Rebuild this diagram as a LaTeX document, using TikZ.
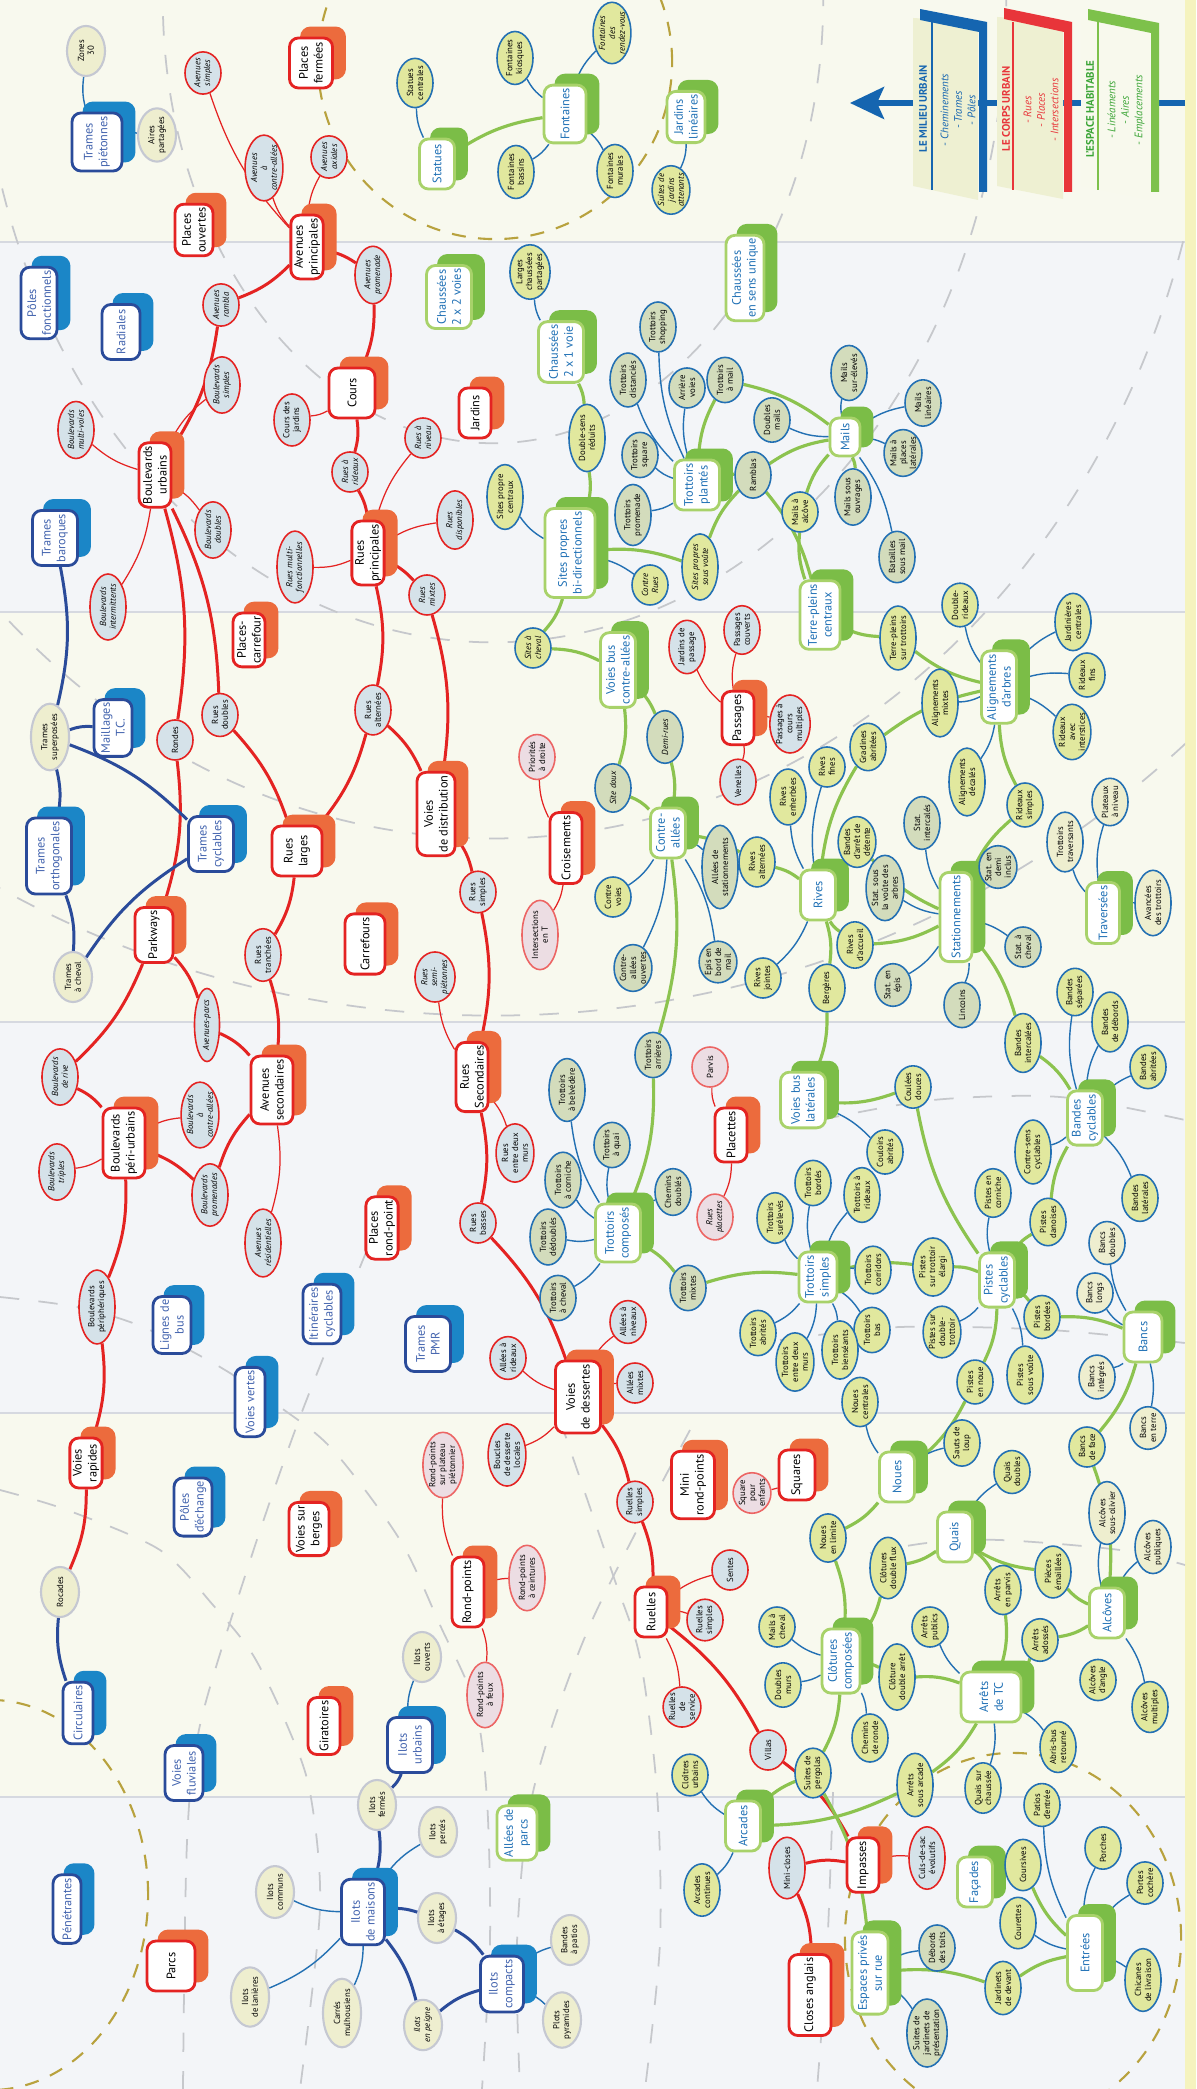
\documentclass[tikz,border=0pt]{standalone}
\usepackage{fontspec}
\setmainfont{PT Sans}
\usetikzlibrary{shapes.geometric,arrows.meta}

\definecolor{cred}{HTML}{E42322}
\definecolor{corange}{HTML}{EC6B3D}
\definecolor{cdblue}{HTML}{2A4B9A}
\definecolor{cmblue}{HTML}{1B86C7}
\definecolor{cbtext}{HTML}{4263AE}
\definecolor{clgreen}{HTML}{A8D26A}
\definecolor{cgreen}{HTML}{7BBD47}
\definecolor{cgtext}{HTML}{1F70B5}
\definecolor{cpaleblue}{HTML}{D5E2E9}
\definecolor{cpink}{HTML}{ECDDE3}
\definecolor{cgrayb}{HTML}{C5C8D2}
\definecolor{cbeige}{HTML}{EEEECF}
\definecolor{clblue}{HTML}{2370B3}
\definecolor{cyell}{HTML}{E1E89E}
\definecolor{csage}{HTML}{D3DCBC}
\definecolor{cgline}{HTML}{8CC34F}
\definecolor{cbgy}{HTML}{F8F9EE}
\definecolor{cbgg}{HTML}{F3F5F8}
\definecolor{cband}{HTML}{D6D9E0}
\definecolor{cdash}{HTML}{C6C8CC}
\definecolor{colive}{HTML}{B8A23E}
\definecolor{cstrip}{HTML}{F5F3BE}
\definecolor{cpaper}{HTML}{EEF0D2}
\definecolor{cleg}{HTML}{1565B0}
\definecolor{clegred}{HTML}{E8353A}
\definecolor{cleggreen}{HTML}{7DC14B}
\definecolor{clegtg}{HTML}{3CA537}

\newcommand{\boxfont}{\fontsize{3.5}{4.2}\selectfont}
\newcommand{\leaffont}{\fontsize{2.5}{2.8}\selectfont}
\newcommand{\legfont}{\fontsize{3.1}{3.85}\selectfont}

% main box with its coloured blob behind it
\newcommand{\bignode}[6][]{%
  \node[#2shadow,#1] at ({#4+12},{#5-10}) {#6};
  \node[#2main,#1] (#3) at (#4,#5) {#6};}

\pgfdeclarelayer{bg}
\pgfsetlayers{bg,main}

\tikzset{
  box/.style={rectangle, rounded corners=0.09cm, line width=0.8pt, fill=white,
    align=center, rotate=90, inner sep=0.9pt, font=\boxfont},
  rmain/.style={box, draw=cred, text=black, minimum width=0.5cm, minimum height=0.32cm},
  rshadow/.style={rmain, draw=corange, fill=corange, text=corange},
  bmain/.style={box, draw=cdblue, text=cbtext, minimum width=0.55cm, minimum height=0.38cm},
  bshadow/.style={bmain, draw=cmblue, fill=cmblue, text=cmblue},
  gmain/.style={box, draw=clgreen, text=cgtext, minimum width=0.5cm, minimum height=0.35cm},
  gshadow/.style={gmain, draw=cgreen, fill=cgreen, text=cgreen},
  leaf/.style={ellipse, line width=0.45pt, align=center, rotate=90, inner sep=0.1pt,
    minimum width=0.40cm, minimum height=0.36cm, font=\leaffont},
  rl/.style={leaf, draw=cred, fill=cpaleblue, font=\leaffont\itshape},
  ru/.style={leaf, draw=cred, fill=cpaleblue},
  rp/.style={leaf, draw=cred!70, fill=cpink},
  ml/.style={leaf, draw=cgrayb, fill=cbeige, line width=0.6pt, minimum width=0.5cm, minimum height=0.38cm},
  gy/.style={leaf, draw=clblue, fill=cyell},
  gs/.style={leaf, draw=clblue, fill=csage},
  gb/.style={leaf, draw=clblue, fill=cbeige},
  rk/.style={draw=cred, line width=0.85pt},
  rn/.style={draw=cred, line width=0.35pt},
  bk/.style={draw=cdblue, line width=0.85pt},
  bn/.style={draw=clblue, line width=0.4pt},
  gk/.style={draw=cgline, line width=0.9pt},
  gdash/.style={draw=cdash, line width=0.5pt, dash pattern=on 5.5pt off 5.5pt},
  odash/.style={draw=colive, line width=0.6pt, dash pattern=on 4pt off 3.5pt}
}

\begin{document}
\begin{tikzpicture}[x=0.01cm, y=-0.01cm]
\useasboundingbox (0,0) rectangle (1196,2089);

\begin{pgfonlayer}{bg}
  \fill[cbgy] (0,0) rectangle (1196,242);
  \fill[cbgg] (0,242) rectangle (1196,612);
  \fill[cbgy] (0,612) rectangle (1196,1022);
  \fill[cbgg] (0,1022) rectangle (1196,1413);
  \fill[cbgy] (0,1413) rectangle (1196,1797);
  \fill[cbgg] (0,1797) rectangle (1196,2089);
  \foreach \yy in {242,612,1022,1413,1797}
    \draw[cband, line width=0.6pt] (0,\yy) -- (1185,\yy);
  \fill[cstrip] (1185,0) rectangle (1196,2089);
  \begin{scope}
    \clip (0,0) rectangle (1185,2089);
    \foreach \rx/\ry in {3.30/4.43, 5.13/6.42, 7.20/8.38, 10.16/10.15}
      \draw[gdash] (493,0) ellipse [x radius=\rx cm, y radius=\ry cm];
    \draw[gdash] plot[smooth] coordinates {(0,1297) (77,1307) (143,1327) (220,1367) (280,1407) (333,1450) (400,1540) (440,1625) (475,1705) (487,1800) (490,1940) (482,2089)};
    \draw[gdash] plot[smooth] coordinates {(0,1490) (67,1510) (160,1550) (213,1605) (253,1655) (287,1725) (310,1792) (320,1908) (300,2089)};
    \draw[gdash] plot[smooth] coordinates {(367,1250) (300,1417) (247,1570) (200,1725) (187,1842) (183,2089)};
    \draw[gdash] plot[smooth] coordinates {(560,1420) (613,1575) (640,1658) (657,1792) (660,1942) (645,2089)};
    \draw[gdash] plot[smooth] coordinates {(690,1430) (590,1625) (533,1792) (517,1942) (520,2089)};
    \draw[gdash] plot[smooth] coordinates {(833,1792) (827,1952) (817,2089)};
    \draw[gdash] plot[smooth] coordinates {(820,1120) (933,1100) (1060,1097) (1185,1120)};
    \draw[gdash] plot[smooth] coordinates {(780,1340) (900,1327) (1050,1330) (1185,1343)};
    \draw[gdash] plot[smooth] coordinates {(870,1553) (927,1543) (1000,1540) (1120,1550) (1185,1565)};
    \draw[odash] (495,62) circle [radius=1.77cm];
    \draw[odash] (1013,1938) ellipse [x radius=1.68cm, y radius=1.85cm];
    \draw[odash] (-10,1895) ellipse [x radius=1.58cm, y radius=1.95cm];
  \end{scope}
\end{pgfonlayer}

% legend
\draw[cleg, line width=1.5pt, -{Stealth[length=0.34cm, width=0.32cm, inset=0.07cm]}] (1185,103) -- (850,103);
\fill[cpaper] (913,18) -- (978,22) -- (978,200) -- (913,186) -- cycle;
\draw[cleg, line width=0.5pt] (932,22) -- (932,190);
\fill[cleg] (920,9) -- (987,22) -- (987,192) -- (979,192) -- (979,32) -- (920,20) -- cycle;
\fill[cpaper] (997,17) -- (1063,21) -- (1063,199) -- (997,186) -- cycle;
\draw[clegred, line width=0.5pt] (1013,22) -- (1013,190);
\fill[clegred] (1004,8) -- (1072,22) -- (1072,192) -- (1064,192) -- (1064,32) -- (1004,19) -- cycle;
\fill[white!60!cpaper] (1081,18) -- (1152,22) -- (1152,200) -- (1081,186) -- cycle;
\draw[cleggreen, line width=0.5pt] (1098,22) -- (1098,190);
\fill[cleggreen] (1088,9) -- (1159,23) -- (1159,192) -- (1151,192) -- (1151,33) -- (1088,20) -- cycle;
\node[rotate=90, font=\legfont\bfseries, text=cleg] (legmilieu) at (923,109) {LE MILIEU URBAIN};
\node[rotate=90, font=\legfont\itshape, text=cleg, align=center] (legmilieux) at (958,110) {- Cheminements\\- Trames\\- Pôles};
\node[rotate=90, font=\legfont\bfseries, text=clegred] (legcorps) at (1006,109) {LE CORPS URBAIN};
\node[rotate=90, font=\legfont\itshape, text=clegred, align=center] (legcorpsx) at (1041,110) {- Rues\\- Places\\- Intersections};
\node[rotate=90, font=\legfont\bfseries, text=clegtg] (legespace) at (1090,109) {L'ESPACE HABITABLE};
\node[rotate=90, font=\legfont\itshape, text=clegtg, align=center] (legespacex) at (1126,110) {- Linéaments\\- Aires\\- Emplacements};

% le corps urbain
\bignode[minimum height=0.43cm]{r}{placesfermees}{311}{63}{Places\\fermées}
\bignode[minimum height=0.38cm]{r}{placesouvertes}{194}{230}{Places\\ouvertes}
\bignode{r}{avprinc}{307}{247}{Avenues\\principales}
\bignode[minimum height=0.46cm]{r}{cours}{352}{393}{Cours}
\bignode{r}{boulurb}{155}{475}{Boulevards\\urbains}
\bignode{r}{jardins}{475}{413}{Jardins}
\bignode{r}{ruesprinc}{368}{553}{Rues\\principales}
\bignode{r}{placescarr}{249}{640}{Places-\\carrefour}
\bignode[minimum height=0.5cm]{r}{rueslarges}{297}{851}{Rues\\larges}
\bignode[minimum height=0.38cm]{r}{parkways}{154}{935}{Parkways}
\bignode[minimum height=0.4cm]{r}{carrefours}{365}{944}{Carrefours}
\bignode[minimum height=0.38cm]{r}{voiesdistr}{436}{814}{Voies\\de distribution}
\bignode{r}{croisements}{566}{848}{Croisements}
\bignode{r}{passages}{738}{718}{Passages}
\bignode[minimum height=0.42cm]{r}{avsec}{272}{1090}{Avenues\\secondaires}
\bignode[minimum height=0.42cm]{r}{boulperi}{124}{1143}{Boulevards\\péri-urbains}
\bignode{r}{placesrp}{382}{1228}{Places\\rond-point}
\bignode{r}{ruessec}{472}{1077}{Rues\\Secondaires}
\bignode{r}{placettes}{731}{1135}{Placettes}
\bignode{r}{voiesrap}{86}{1463}{Voies\\rapides}
\bignode[minimum height=0.4cm]{r}{voiesberges}{309}{1529}{Voies sur\\berges}
\bignode[minimum height=0.45cm]{r}{voiesdess}{578}{1397}{Voies\\de dessertes}
\bignode[minimum height=0.43cm]{r}{minirp}{693}{1485}{Mini\\rond-points}
\bignode[minimum height=0.36cm]{r}{squares}{797}{1475}{Squares}
\bignode{r}{rondpoints}{468}{1592}{Rond-points}
\bignode{r}{ruelles}{651}{1612}{Ruelles}
\bignode{r}{giratoires}{324}{1726}{Giratoires}
\bignode[minimum height=0.48cm]{r}{parcs}{171}{1966}{Parcs}
\bignode{r}{impasses}{863}{1865}{Impasses}
\bignode[minimum height=0.42cm]{r}{closes}{810}{1995}{Closes anglais}

\node[rl] (avsimples) at (203,73) {Avenues\\simples};
\node[rl] (avcontre) at (264,168) {Avenues\\à\\contre-allées};
\node[rl] (avaxiales) at (329,157) {Avenues\\axiales};
\node[rl] (avpromenade) at (373,275) {Avenues\\promenade};
\node[rl] (avrambla) at (221,305) {Avenues\\rambla};
\node[rl] (bsimples) at (222,385) {Boulevards\\simples};
\node[ru] (coursjardins) at (292,420) {Cours des\\jardins};
\node[rl] (bmulti) at (76,430) {Boulevards\\multi-voies};
\node[rl] (ruesrideaux) at (350,472) {Rues à\\rideaux};
\node[rl] (bdoubles) at (213,530) {Boulevards\\doubles};
\node[rl] (bintermittents) at (108,607) {Boulevards\\intermittents};
\node[rl] (ruesmulti) at (295,567) {Rues multi-\\fonctionnelles};
\node[rl] (ruesniveau) at (423,438) {Rues à\\niveau};
\node[rl] (ruesdispo) at (455,520) {Rues\\disponibles};
\node[rl] (ruesmixtes) at (427,595) {Rues\\mixtes};
\node[ru] (rondes) at (175,740) {Rondes};
\node[ru] (ruesdoubles) at (220,715) {Rues\\doubles};
\node[ru] (ruesalt) at (373,710) {Rues\\alternées};
\node[ru] (ruestranchees) at (263,955) {Rues\\tranchées};
\node[rl, minimum width=0.55cm, minimum height=0.25cm] (avparcs) at (207,1025) {Avenues-parcs};
\node[ru] (ruessimples) at (478,892) {Rues\\simples};
\node[rl] (ruessemi) at (435,977) {Rues\\semi-\\piétonnes};
\node[rp] (prioritesdroite) at (537,757) {Priorités\\à droite};
\node[rp] (intersectionsT) at (540,935) {Intersections\\en T};
\node[ru] (jardinspassage) at (687,647) {Jardins de\\passage};
\node[ru] (passagescouverts) at (742,630) {Passages\\couverts};
\node[ru] (passagescours) at (790,724) {Passages à\\cours\\multiples};
\node[ru] (venelles) at (738,782) {Venelles};
\node[rl] (bderive) at (60,1077) {Boulevards\\de rive};
\node[rl] (bcontre) at (200,1115) {Boulevards\\à\\contre-allées};
\node[rl] (btriples) at (57,1172) {Boulevards\\triples};
\node[rl] (bpromenades) at (210,1195) {Boulevards\\promenades};
\node[rl] (avresid) at (263,1243) {Avenues\\résidentielles};
\node[ru] (bperiph) at (97,1307) {Boulevards\\périphériques};
\node[ru] (ruesdeuxmurs) at (515,1153) {Rues\\entre deux\\murs};
\node[ru] (ruesbasses) at (478,1223) {Rues\\basses};
\node[rp] (parvis) at (710,1067) {Parvis};
\node[rp, font=\leaffont\itshape] (ruesplacettes) at (715,1217) {Rues\\placettes};
\node[ru] (alleesniveaux) at (628,1322) {Allées à\\niveaux};
\node[ru] (alleesrideaux) at (508,1358) {Allées à\\rideaux};
\node[ru] (alleesmixtes) at (635,1383) {Allées\\mixtes};
\node[rp] (rpplateau) at (443,1465) {Rond-points\\sur plateau\\piétonnier};
\node[ru] (boucles) at (507,1455) {Boucles\\de desserte\\locales};
\node[rp] (squareenfants) at (752,1493) {Square\\pour\\enfants};
\node[ru] (ruellessimplesa) at (635,1502) {Ruelles\\simples};
\node[rp] (rpceintures) at (527,1578) {Rond-points\\à ceintures};
\node[ru] (sentes) at (730,1570) {Sentes};
\node[ru] (ruellessimplesb) at (705,1620) {Ruelles\\simples};
\node[rp] (rpfeux) at (485,1695) {Rond-points\\à feux};
\node[ru] (ruellesservice) at (682,1707) {Ruelles\\de\\service};
\node[ru] (villas) at (768,1750) {Villas};
\node[ru] (miniclos) at (787,1868) {Mini-closes};
\node[ru] (culsdesac) at (927,1858) {Culs-de-sac\\évolutifs};

% le milieu urbain
\bignode[minimum height=0.5cm]{b}{tramespiet}{97}{142}{Trames\\piétonnes}
\bignode[minimum height=0.36cm]{b}{polesfonc}{39}{303}{Pôles\\fonctionnels}
\bignode{b}{radiales}{121}{332}{Radiales}
\bignode[minimum height=0.45cm]{b}{tramesbaroq}{55}{538}{Trames\\baroques}
\bignode{b}{maillages}{113}{728}{Maillages\\T.C.}
\bignode[minimum height=0.45cm]{b}{tramesortho}{49}{856}{Trames\\orthogonales}
\bignode[minimum height=0.45cm]{b}{tramescycl}{211}{844}{Trames\\cyclables}
\bignode{b}{lignesbus}{172}{1325}{Lignes de\\bus}
\bignode{b}{itineraires}{322}{1314}{Itinéraires\\cyclables}
\bignode[minimum height=0.3cm]{b}{voiesvertes}{250}{1402}{Voies vertes}
\bignode{b}{polesech}{193}{1507}{Pôles\\d'échange}
\bignode[minimum height=0.45cm]{b}{tramespmr}{428}{1344}{Trames\\PMR}
\bignode[minimum height=0.3cm]{b}{circulaires}{78}{1713}{Circulaires}
\bignode{b}{voiesfluv}{184}{1773}{Voies\\fluviales}
\bignode[minimum height=0.45cm]{b}{ilotsurb}{410}{1745}{Ilots\\urbains}
\bignode[minimum height=0.28cm]{b}{penetrantes}{67}{1909}{Pénétrantes}
\bignode[minimum height=0.43cm]{b}{ilotsmaisons}{363}{1912}{Ilots\\de maisons}
\bignode[minimum height=0.43cm]{b}{ilotscompacts}{502}{1984}{Ilots\\compacts}

\node[ml] (zones30) at (86,51) {Zones\\30};
\node[ml] (airespart) at (157,135) {Aires\\partagées};
\node[ml] (tramessup) at (50,737) {Trames\\superposées};
\node[ml] (tramescheval) at (73,977) {Trames\\à cheval};
\node[ml] (rocades) at (60,1592) {Rocades};
\node[ml] (ilotsfermes) at (377,1805) {Ilots\\fermés};
\node[ml] (ilotsouverts) at (422,1657) {Ilots\\ouverts};
\node[ml] (ilotscommuns) at (275,1892) {Ilots\\communs};
\node[ml] (ilotslanieres) at (250,1997) {Ilots\\de lanières};
\node[ml] (carres) at (342,2013) {Carrés\\mulhousiens};
\node[ml] (ilotsperces) at (438,1832) {Ilots\\percés};
\node[ml] (ilotsetages) at (437,1918) {Ilots\\à étages};
\node[ml, font=\leaffont\itshape] (ilotspeigne) at (423,2025) {Ilots\\en peigne};
\node[ml] (bandespatios) at (570,1940) {Bandes\\à patios};
\node[ml] (plots) at (562,2020) {Plots\\pyramides};

% l'espace habitable
\bignode{g}{statues}{437}{164}{Statues}
\bignode[minimum height=0.42cm]{g}{fontaines}{565}{114}{Fontaines}
\bignode[minimum height=0.38cm]{g}{jardinslin}{686}{117}{Jardins\\linéaires}
\bignode[minimum height=0.45cm]{g}{chauss22}{449}{297}{Chaussées\\2 x 2 voies}
\bignode[minimum height=0.45cm]{g}{chauss21}{561}{352}{Chaussées\\2 x 1 voie}
\bignode[minimum height=0.38cm]{g}{chausssu}{745}{278}{Chaussées\\en sens unique}
\bignode[minimum height=0.45cm]{g}{trottplantes}{697}{485}{Trottoirs\\plantés}
\bignode[minimum height=0.3cm, minimum width=0.38cm]{g}{mails}{845}{437}{Mails}
\bignode[minimum height=0.5cm]{g}{sitesbi}{570}{553}{Sites propres\\bi-directionnels}
\bignode[minimum height=0.4cm]{g}{terrepleins}{820}{615}{Terre-pleins\\centraux}
\bignode{g}{voiesbusca}{618}{670}{Voies bus\\contre-allées}
\bignode{g}{alignements}{999}{687}{Alignements\\d'arbres}
\bignode{g}{contreallees}{668}{833}{Contre-\\allées}
\bignode{g}{rives}{818}{895}{Rives}
\bignode[minimum height=0.32cm]{g}{stationnements}{956}{917}{Stationnements}
\bignode[minimum height=0.33cm]{g}{traversees}{1103}{913}{Traversées}
\bignode[minimum height=0.45cm]{g}{voiesbuslat}{803}{1100}{Voies bus\\latérales}
\bignode{g}{bandescycl}{1085}{1118}{Bandes\\cyclables}
\bignode[minimum height=0.45cm]{g}{trottcomp}{618}{1233}{Trottoirs\\composés}
\bignode[minimum height=0.38cm]{g}{trottsimples}{818}{1277}{Trottoirs\\simples}
\bignode{g}{pistescycl}{997}{1280}{Pistes\\cyclables}
\bignode[minimum height=0.38cm]{g}{bancs}{1143}{1337}{Bancs}
\bignode{g}{noues}{897}{1477}{Noues}
\bignode{g}{quais}{955}{1537}{Quais}
\bignode{g}{alcoves}{1107}{1613}{Alcôves}
\bignode[minimum height=0.38cm]{g}{clotures}{841}{1661}{Clôtures\\composées}
\bignode[minimum height=0.6cm]{g}{arretstc}{991}{1697}{Arrêts\\de TC}
\bignode[minimum height=0.4cm]{g}{alleesparcs}{517}{1833}{Allées de\\parcs}
\bignode{g}{arcades}{743}{1826}{Arcades}
\bignode{g}{facades}{975}{1882}{Façades}
\bignode[minimum height=0.36cm]{g}{espaces}{870}{1973}{Espaces privés\\sur rue}
\bignode[minimum width=0.75cm]{g}{entrees}{1085}{1953}{Entrées}

\node[gy] (statuescentrales) at (415,83) {Statues\\centrales};
\node[gy] (fontkiosques) at (515,58) {Fontaines\\kiosques};
\node[gy, font=\leaffont\itshape] (fontrdv) at (612,33) {Fontaines\\des\\rendez-vous};
\node[gy] (fontbassins) at (516,172) {Fontaines\\bassins};
\node[gy] (fontmurales) at (615,171) {Fontaines\\murales};
\node[gy, font=\leaffont\itshape] (suitesjardins) at (671,190) {Suites de\\jardins\\attenants};
\node[gy] (larges) at (530,272) {Larges\\chaussées\\partagées};
\node[gs] (tshopping) at (658,327) {Trottoirs\\shopping};
\node[gs] (tdistancies) at (628,380) {Trottoirs\\distanciés};
\node[gs] (arrierevoies) at (687,388) {Arrière\\voies};
\node[gs] (tamail) at (725,380) {Trottoirs\\à mail};
\node[gs] (doublesmails) at (772,420) {Doubles\\mails};
\node[gy] (doublesens) at (587,438) {Double-sens\\réduits};
\node[gs] (tsquare) at (640,455) {Trottoirs\\square};
\node[gs] (ramblas) at (753,475) {Ramblas};
\node[gy] (sitescentraux) at (505,497) {Sites propre\\centraux};
\node[gs] (tpromenade) at (633,515) {Trottoirs\\promenade};
\node[gs] (mailssur) at (849,373) {Mails\\sur-élevés};
\node[gs] (mailslin) at (923,403) {Mails\\linéaires};
\node[gs] (mailsplaces) at (903,453) {Mails à\\places\\latérales};
\node[gs] (mailssous) at (853,497) {Mails sous\\ouvrages};
\node[gy] (mailsalcove) at (800,512) {Mails à\\alcôve};
\node[gy, font=\leaffont\itshape] (contrerues) at (650,585) {Contre\\Rues};
\node[gy, font=\leaffont\itshape] (sitesvoute) at (700,567) {Sites propres\\sous voûte};
\node[gy, font=\leaffont\itshape] (sitescheval) at (533,648) {Sites à\\cheval};
\node[gs, font=\leaffont\itshape] (demirues) at (665,737) {Demi-rues};
\node[gs, font=\leaffont\itshape] (sitedoux) at (613,788) {Site doux};
\node[gy] (rivesenherbees) at (788,797) {Rives\\enherbées};
\node[gs] (alleesstat) at (720,867) {Allées de\\stationnements};
\node[gy] (rivesalt) at (757,862) {Rives\\alternées};
\node[gy] (contrevoies) at (613,897) {Contre\\voies};
\node[gs] (caouvertes) at (633,968) {Contre-\\allées\\ouvertes};
\node[gs] (epis) at (718,962) {Epis en\\bord de\\mail};
\node[gy] (rivesjointes) at (763,978) {Rives\\jointes};
\node[gs] (batailles) at (897,557) {Batailles\\sous mail};
\node[gy] (doublerideaux) at (960,605) {Double-\\rideaux};
\node[gy] (jardinieres) at (1073,622) {Jardinières\\centrales};
\node[gy] (tpsurtrottoirs) at (898,638) {Terre-pleins\\sur trottoirs};
\node[gy] (rideauxfins) at (1087,675) {Rideaux\\fins};
\node[gy] (alignmixtes) at (940,703) {Alignements\\mixtes};
\node[gy] (rideauxinter) at (1072,732) {Rideaux\\avec\\interstices};
\node[gy] (gradines) at (868,747) {Gradines\\abritées};
\node[gy] (rivesfines) at (827,767) {Rives\\fines};
\node[gy] (aligndecales) at (967,782) {Alignements\\décalés};
\node[gy] (rideauxsimples) at (1025,805) {Rideaux\\simples};
\node[gb] (plateaux) at (1110,802) {Plateaux\\à niveau};
\node[gs] (statintercales) at (922,823) {Stat.\\intercalés};
\node[gy] (bandesarret) at (857,842) {Bandes\\d'arrêt de\\détente};
\node[gb] (trottraversants) at (1065,842) {Trottoirs\\traversants};
\node[gs] (statdemi) at (998,867) {Stat. en\\demi\\inclus};
\node[gs] (statvoute) at (885,888) {Stat. sous\\la voûte des\\arbres};
\node[gb] (avancees) at (1153,903) {Avancées\\des trottoirs};
\node[gy] (rivesaccueil) at (855,945) {Rives\\d'accueil};
\node[gs] (statcheval) at (1023,947) {Stat. à\\cheval};
\node[gs] (statepis) at (893,985) {Stat. en\\épis};
\node[gy] (bergeres) at (827,988) {Bergères};
\node[gs] (lincolns) at (962,1005) {Lincolns};
\node[gy] (bandessep) at (1075,992) {Bandes\\séparées};
\node[gy] (bandesdebords) at (1110,1022) {Bandes\\de débords};
\node[gy] (bandesinter) at (1023,1043) {Bandes\\intercalées};
\node[gs] (tarrieres) at (653,1055) {Trottoirs\\arrières};
\node[gs] (tbelvedere) at (567,1090) {Trottoirs\\à belvédère};
\node[gs] (tquai) at (612,1145) {Trottoirs\\à quai};
\node[gs] (tcorniche) at (563,1180) {Trottoirs\\à corniche};
\node[gs] (cheminsdoubles) at (673,1192) {Chemins\\doublés};
\node[gs] (tdedoubles) at (548,1237) {Trottoirs\\dédoublés};
\node[gy] (tsureleves) at (775,1218) {Trottoirs\\surélevés};
\node[gs] (tmixtes) at (688,1288) {Trottoirs\\mixtes};
\node[gs] (tcheval) at (558,1298) {Trottoirs\\à cheval};
\node[gy] (tabrites) at (758,1333) {Trottoirs\\abrités};
\node[gy] (tdeuxmurs) at (795,1362) {Trottoirs\\entre deux\\murs};
\node[gy] (bandesabritees) at (1148,1067) {Bandes\\abritées};
\node[gy] (coulees) at (913,1087) {Coulées\\douces};
\node[gy] (couloirs) at (885,1152) {Couloirs\\abrités};
\node[gy] (contresens) at (1033,1152) {Contre-sens\\cyclables};
\node[gy] (tbordes) at (813,1183) {Trottoirs\\bordés};
\node[gy] (trideaux) at (862,1195) {Trottoirs à\\rideaux};
\node[gy] (pcorniche) at (993,1193) {Pistes en\\corniche};
\node[gy] (bandeslat) at (1140,1198) {Bandes\\latérales};
\node[gy] (pdanoises) at (1048,1222) {Pistes\\danoises};
\node[gb] (bancsdoubles) at (1107,1243) {Bancs\\doubles};
\node[gy] (tcorridors) at (873,1270) {Trottoirs\\corridors};
\node[gy] (pelargi) at (933,1267) {Pistes\\sur trottoir\\élargi};
\node[gb] (bancslongs) at (1095,1293) {Bancs\\longs};
\node[gy] (tbas) at (872,1330) {Trottoirs\\bas};
\node[gy] (pbordees) at (1042,1317) {Pistes\\bordées};
\node[gy] (tbienseants) at (840,1350) {Trottoirs\\bienséants};
\node[gy] (pdouble) at (942,1332) {Pistes sur\\double-\\trottoir};
\node[gb] (bancsintegres) at (1097,1377) {Bancs\\intégrés};
\node[gy] (pnoue) at (975,1382) {Pistes\\en noue};
\node[gy] (psousvoute) at (1025,1375) {Pistes\\sous voûte};
\node[gy] (nouescentrales) at (860,1402) {Noues\\centrales};
\node[gb] (bancsterre) at (1148,1428) {Bancs\\en terre};
\node[gy] (sautsloup) at (962,1443) {Sauts de\\loup};
\node[gy] (bancsface) at (1087,1447) {Bancs\\de face};
\node[gy] (quaisdoubles) at (1012,1472) {Quais\\doubles};
\node[gb] (alcovesolivier) at (1107,1513) {Alcôves\\sous-olivier};
\node[gy] (nouesenlimite) at (828,1538) {Noues\\en limite};
\node[gb] (alcovespubl) at (1153,1547) {Alcôves\\publiques};
\node[gy] (cloturesflux) at (888,1568) {Clôtures\\double flux};
\node[gy] (piecesem) at (1053,1572) {Pièces\\émaillées};
\node[gy] (arretsparvis) at (1003,1590) {Arrêts\\en parvis};
\node[gy] (arretspublics) at (930,1627) {Arrêts\\publics};
\node[gy] (arretsadosses) at (1040,1640) {Arrêts\\adossés};
\node[gy] (cloturearret) at (897,1677) {Clôture\\double arrêt};
\node[gy] (alcovesangle) at (1098,1680) {Alcôves\\d'angle};
\node[gy] (alcovesmult) at (1150,1707) {Alcôves\\multiples};
\node[gy] (cheminsronde) at (870,1738) {Chemins\\de ronde};
\node[gy] (abrisbus) at (1058,1747) {Abris-bus\\retourné};
\node[gy] (pergolas) at (813,1773) {Suites de\\pergolas};
\node[gy] (arretsarcade) at (915,1785) {Arrêts\\sous arcade};
\node[gy] (quaischaussee) at (983,1788) {Quais sur\\chaussée};
\node[gy] (patios) at (1042,1805) {Patios\\d'entrée};
\node[gy] (porches) at (1103,1848) {Porches};
\node[gy] (coursives) at (1023,1865) {Coursives};
\node[gy] (portes) at (1145,1883) {Portes\\cochère};
\node[gy] (courettes) at (1018,1923) {Courettes};
\node[gs] (debords) at (937,1948) {Débords\\des toits};
\node[gy] (chicanes) at (1143,1980) {Chicanes\\de livraison};
\node[gy] (jardinets) at (1003,1988) {Jardinets\\de devant};
\node[gs] (suitesjardinets) at (927,2033) {Suites de\\jardinets de\\présentation};
\node[gy] (mailscheval) at (777,1627) {Mails à\\cheval};
\node[gy] (doublesmurs) at (783,1685) {Doubles\\murs};
\node[gy] (cloitres) at (690,1775) {Cloîtres\\urbains};
\node[gy] (arcadescont) at (702,1890) {Arcades\\continues};

\begin{pgfonlayer}{bg}
  \foreach \a/\b in {avprinc/avrambla, avrambla/boulurb, avprinc/avpromenade, avpromenade/cours,
      cours/ruesrideaux, ruesrideaux/ruesprinc, boulurb/rondes, rondes/parkways, boulurb/ruesdoubles,
      ruesdoubles/rueslarges, ruesprinc/ruesalt, ruesalt/rueslarges, ruesalt/voiesdistr,
      ruesprinc/ruesmixtes, ruesmixtes/voiesdistr, rueslarges/ruestranchees, ruestranchees/avsec,
      parkways/avparcs, avparcs/avsec, parkways/bderive, bderive/boulperi, boulperi/bpromenades,
      bpromenades/avsec, boulperi/bperiph, bperiph/voiesrap, voiesrap/rocades, voiesdistr/ruessimples,
      ruessimples/ruessec, ruessec/ruesbasses, ruesbasses/voiesdess, voiesdess/ruellessimplesa,
      ruellessimplesa/ruelles, ruelles/villas, villas/impasses, miniclos/impasses, miniclos/closes}
    \draw[rk] (\a) to[bend left=12] (\b);
  \foreach \a/\b in {avprinc/avsimples, avprinc/avcontre, avprinc/avaxiales, cours/coursjardins,
      boulurb/bsimples, boulurb/bmulti, boulurb/bdoubles, boulurb/bintermittents, ruesprinc/ruesmulti,
      ruesprinc/ruesdispo, ruesprinc/ruesniveau, boulperi/bcontre, boulperi/btriples, avsec/avresid,
      ruessec/ruessemi, ruessec/ruesdeuxmurs, croisements/prioritesdroite, croisements/intersectionsT,
      passages/jardinspassage, passages/passagescouverts, passages/passagescours, passages/venelles,
      placettes/parvis, placettes/ruesplacettes, voiesdess/alleesniveaux, voiesdess/alleesrideaux,
      voiesdess/alleesmixtes, voiesdess/boucles, squares/squareenfants, rondpoints/rpplateau,
      rondpoints/rpceintures, rondpoints/rpfeux, ruelles/sentes, ruelles/ruellessimplesb,
      ruelles/ruellesservice, impasses/culsdesac}
    \draw[rn] (\a) to[bend left=12] (\b);
  \foreach \a/\b in {tramesbaroq/tramessup, tramessup/maillages, tramessup/tramesortho,
      tramessup/tramescycl, tramesortho/tramescheval, tramescheval/tramescycl, circulaires/rocades,
      ilotsurb/ilotsfermes, ilotsfermes/ilotsmaisons, ilotsmaisons/ilotsetages, ilotsetages/ilotscompacts,
      ilotsmaisons/ilotspeigne, ilotspeigne/ilotscompacts}
    \draw[bk] (\a) to[bend left=12] (\b);
  \foreach \a/\b in {tramespiet/zones30, tramespiet/airespart, ilotsurb/ilotsouverts,
      ilotsmaisons/ilotscommuns, ilotsmaisons/ilotslanieres, ilotsmaisons/carres,
      ilotsmaisons/ilotsperces, ilotscompacts/bandespatios, ilotscompacts/plots}
    \draw[bn] (\a) to[bend left=12] (\b);
  \foreach \a/\b in {statues/fontaines, chauss21/doublesens, doublesens/sitesbi, sitesbi/sitesvoute,
      sitesvoute/ramblas, sitesbi/sitescheval, sitescheval/voiesbusca, voiesbusca/sitedoux,
      sitedoux/contreallees, voiesbusca/demirues, demirues/contreallees, contreallees/rivesalt,
      rivesalt/rives, contreallees/tarrieres, tarrieres/trottcomp, trottcomp/tmixtes,
      tmixtes/trottsimples, trottsimples/pelargi, pelargi/pistescycl, pistescycl/pdanoises,
      pdanoises/bandescycl, pistescycl/pbordees, pbordees/bancs, pistescycl/pnoue, pnoue/noues,
      pistescycl/coulees, coulees/voiesbuslat, rives/bergeres, bergeres/voiesbuslat,
      stationnements/bandesinter, bandesinter/bandescycl, bancs/bancsface, bancsface/alcoves,
      alcoves/piecesem, piecesem/quais, alcoves/arretsadosses, arretsadosses/arretstc,
      noues/nouesenlimite, nouesenlimite/clotures, quais/cloturesflux, cloturesflux/clotures,
      quais/arretsparvis, arretsparvis/arretstc, clotures/cloturearret, cloturearret/arretstc,
      clotures/pergolas, pergolas/espaces, arretstc/arretsarcade, arretsarcade/arcades,
      arcades/pergolas, espaces/jardinets, jardinets/entrees, entrees/coursives, coursives/facades,
      stationnements/rideauxsimples, rideauxsimples/alignements, stationnements/bandesarret,
      bandesarret/rives, stationnements/rivesaccueil, rivesaccueil/rives, rives/gradines,
      gradines/alignements, alignements/tpsurtrottoirs, tpsurtrottoirs/terrepleins,
      terrepleins/mailsalcove, mailsalcove/mails, ramblas/terrepleins, trottplantes/ramblas,
      ramblas/mails, trottplantes/tamail, tamail/mails, mails/mailssous}
    \draw[gk] (\a) to[bend left=12] (\b);
  \foreach \a/\b in {statues/statuescentrales, fontaines/fontkiosques, fontaines/fontrdv,
      fontaines/fontbassins, fontaines/fontmurales, jardinslin/suitesjardins, chauss21/larges,
      trottplantes/tshopping, trottplantes/tdistancies, trottplantes/arrierevoies,
      trottplantes/tsquare, trottplantes/tpromenade, mails/doublesmails, mails/mailssur,
      mails/mailslin, mails/mailsplaces, mails/batailles, sitesbi/sitescentraux, sitesbi/contrerues,
      contreallees/contrevoies, contreallees/caouvertes, contreallees/alleesstat, contreallees/epis,
      rives/rivesfines, rives/rivesenherbees, rives/rivesjointes, alignements/doublerideaux,
      alignements/jardinieres, alignements/rideauxfins, alignements/rideauxinter,
      alignements/alignmixtes, alignements/aligndecales, stationnements/statintercales,
      stationnements/statvoute, stationnements/statdemi, stationnements/statcheval,
      stationnements/statepis, stationnements/lincolns, traversees/trottraversants,
      traversees/plateaux, traversees/avancees, bandescycl/bandessep, bandescycl/bandesdebords,
      bandescycl/bandesabritees, bandescycl/contresens, bandescycl/bandeslat, voiesbuslat/couloirs,
      trottcomp/tbelvedere, trottcomp/tquai, trottcomp/tcorniche, trottcomp/tdedoubles,
      trottcomp/tcheval, trottcomp/cheminsdoubles, trottsimples/tsureleves, trottsimples/tabrites,
      trottsimples/tbordes, trottsimples/trideaux, trottsimples/tcorridors, trottsimples/tbas,
      trottsimples/tbienseants, trottsimples/tdeuxmurs, pistescycl/pcorniche, pistescycl/pdouble,
      pistescycl/psousvoute, bancs/bancsdoubles, bancs/bancslongs, bancs/bancsintegres,
      bancs/bancsterre, noues/nouescentrales, noues/sautsloup, quais/quaisdoubles,
      alcoves/alcovesolivier, alcoves/alcovespubl, alcoves/alcovesmult, clotures/cheminsronde,
      clotures/mailscheval, clotures/doublesmurs, arretstc/arretspublics, arretstc/abrisbus,
      arretstc/quaischaussee, arcades/cloitres, arcades/arcadescont, espaces/debords,
      espaces/suitesjardinets, entrees/patios, entrees/porches, entrees/portes, entrees/chicanes,
      entrees/courettes}
    \draw[bn] (\a) to[bend left=12] (\b);
\end{pgfonlayer}
\end{tikzpicture}
\end{document}
